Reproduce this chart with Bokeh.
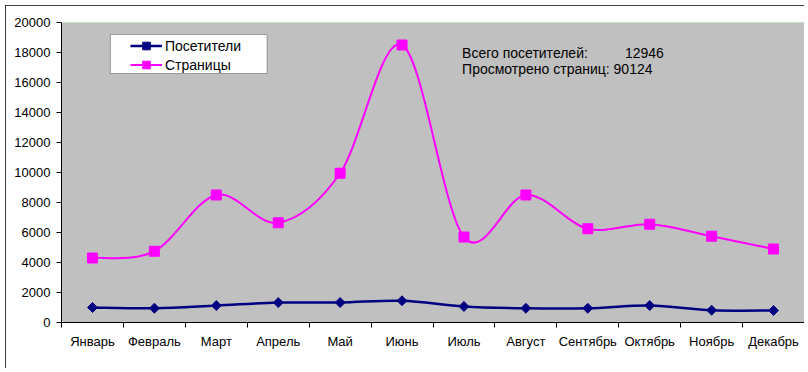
from bokeh.plotting import figure
from bokeh.models import Range1d, FixedTicker, Legend, LegendItem, Label, Span, BoxAnnotation
from bokeh.embed import file_html
from bokeh.resources import INLINE

months = ["Январь", "Февраль", "Март", "Апрель", "Май", "Июнь", "Июль",
          "Август", "Сентябрь", "Октябрь", "Ноябрь", "Декабрь"]
visitors = [1000, 950, 1130, 1330, 1330, 1450, 1070, 950, 950, 1130, 820, 800]
pages = [4300, 4750, 8500, 6650, 9950, 18500, 5700, 8500, 6250, 6550, 5750, 4900]
y_ticks = [0, 2000, 4000, 6000, 8000, 10000, 12000, 14000, 16000, 18000, 20000]
total_visitors = 12946
total_pages = 90124

FONT = "Liberation Sans"
xs = [i + 0.5 for i in range(len(months))]
bounds = [i for i in range(len(months) + 1)]


def smooth_segments(x, y):
    n = len(x)
    d = dict(x0=[], y0=[], x1=[], y1=[], cx0=[], cy0=[], cx1=[], cy1=[])
    for i in range(n - 1):
        p0 = (x[i - 1], y[i - 1]) if i > 0 else (x[i], y[i])
        p1 = (x[i], y[i])
        p2 = (x[i + 1], y[i + 1])
        p3 = (x[i + 2], y[i + 2]) if i + 2 < n else p2
        d["x0"].append(p1[0]); d["y0"].append(p1[1])
        d["x1"].append(p2[0]); d["y1"].append(p2[1])
        d["cx0"].append(p1[0] + (p2[0] - p0[0]) / 6.0)
        d["cy0"].append(p1[1] + (p2[1] - p0[1]) / 6.0)
        d["cx1"].append(p2[0] - (p3[0] - p1[0]) / 6.0)
        d["cy1"].append(p2[1] - (p3[1] - p1[1]) / 6.0)
    return d


p = figure(width=799, height=363, output_backend="svg", toolbar_location=None,
           x_range=Range1d(0, len(months)), y_range=Range1d(0, 20000),
           min_border_left=56, min_border_right=0, min_border_top=17, min_border_bottom=46,
           background_fill_color="#C0C0C0", border_fill_color="white")
p.styles = {"margin-left": "5px", "margin-top": "5px",
            "outline": "1px solid black", "outline-offset": "-1px"}
p.outline_line_color = None
p.grid.visible = False

# y axis
p.yaxis.ticker = FixedTicker(ticks=y_ticks, minor_ticks=[])
p.yaxis.axis_line_color = "black"
p.yaxis.major_tick_out = 5
p.yaxis.major_tick_in = 0
p.yaxis.minor_tick_line_color = None
p.yaxis.major_label_standoff = 6
p.yaxis.major_label_text_font = FONT
p.yaxis.major_label_text_font_size = "13px"
p.yaxis.major_label_text_color = "black"

# x axis
p.xaxis.ticker = FixedTicker(ticks=xs, minor_ticks=bounds)
p.xaxis.major_label_overrides = {x: m for x, m in zip(xs, months)}
p.xaxis.major_tick_line_color = None
p.xaxis.minor_tick_out = 5
p.xaxis.minor_tick_in = 0
p.xaxis.minor_tick_line_color = "black"
p.xaxis.axis_line_color = "black"
p.xaxis.major_label_standoff = 5
p.xaxis.major_label_text_font = FONT
p.xaxis.major_label_text_font_size = "13px"
p.xaxis.major_label_text_color = "black"

p.add_layout(Span(location=20000, dimension="width", line_color="#A8F0A8", line_width=1))

PINK = "#FF00FF"
NAVY = "#000080"

sv = smooth_segments(xs, visitors)
sp = smooth_segments(xs, pages)
v_line = p.bezier(source=sv, x0="x0", y0="y0", x1="x1", y1="y1", cx0="cx0", cy0="cy0",
                  cx1="cx1", cy1="cy1", line_color=NAVY, line_width=2.5)
p_line = p.bezier(source=sp, x0="x0", y0="y0", x1="x1", y1="y1", cx0="cx0", cy0="cy0",
                  cx1="cx1", cy1="cy1", line_color=PINK, line_width=2)

v_marks = p.scatter(xs, visitors, marker="square", angle=0.7854, size=7,
                    fill_color=NAVY, line_color=NAVY)
p_marks = p.scatter(xs, pages, marker="square", size=10,
                    fill_color=PINK, line_color=PINK)

p.add_layout(BoxAnnotation(left=0.79, right=3.32, top=19200, bottom=16600,
                           fill_color="white", fill_alpha=1,
                           line_color="black", line_width=1, level="overlay"))

legend = Legend(items=[LegendItem(label="Посетители", renderers=[v_line, v_marks]),
                       LegendItem(label="Страницы", renderers=[p_line, p_marks])],
                location=(69, 248), padding=0, spacing=0, margin=0,
                glyph_width=32, glyph_height=19, label_height=19, label_standoff=3,
                border_line_color=None, background_fill_alpha=0,
                label_text_font=FONT, label_text_font_size="14px",
                label_text_color="black")
p.add_layout(legend)

p.add_layout(Label(x=6.47, y=18000, text="Всего посетителей:", text_font=FONT,
                   text_font_size="14px", text_color="black", text_baseline="alphabetic"))
p.add_layout(Label(x=9.1, y=18000, text=str(total_visitors), text_font=FONT,
                   text_font_size="14px", text_color="black", text_baseline="alphabetic"))
p.add_layout(Label(x=6.47, y=16870, text="Просмотрено страниц: " + str(total_pages),
                   text_font=FONT, text_font_size="14px", text_color="black",
                   text_baseline="alphabetic"))

open("out.html", "w").write(file_html(p, INLINE))
